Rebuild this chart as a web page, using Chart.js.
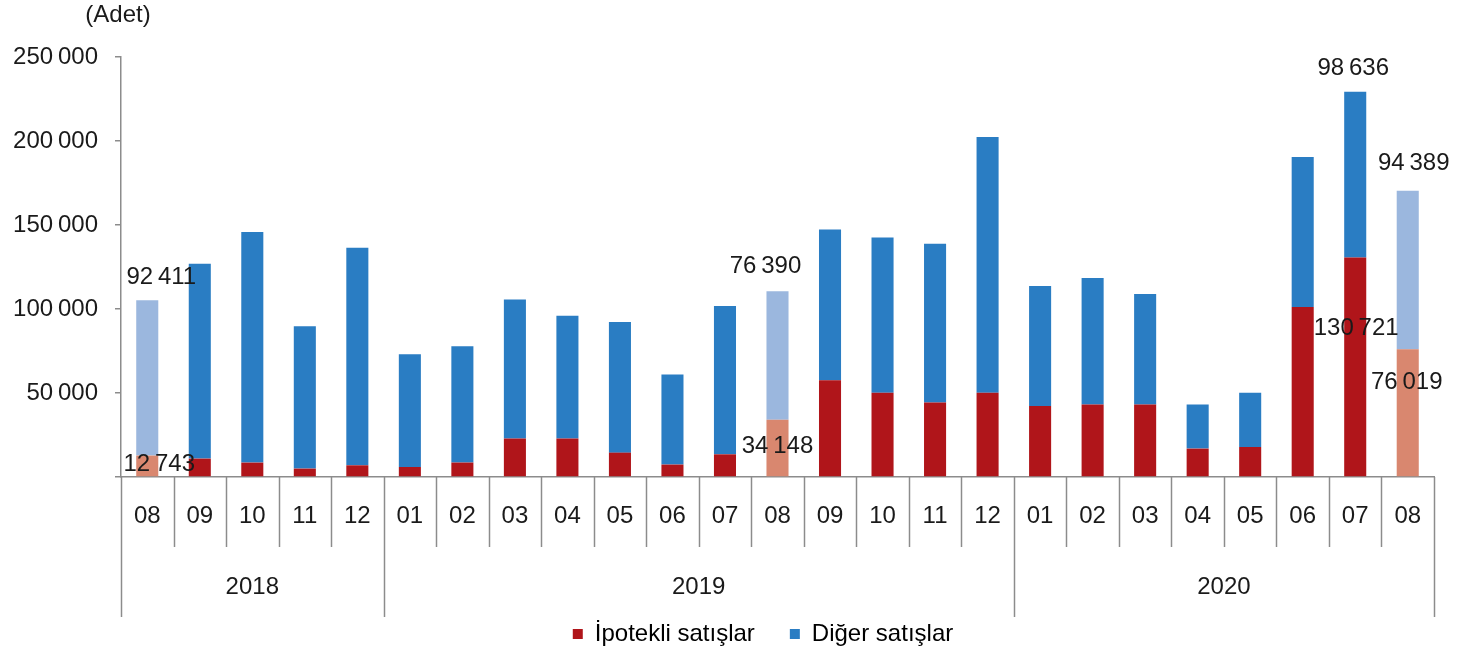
<!DOCTYPE html>
<html lang="tr">
<head>
<meta charset="utf-8">
<script src="https://cdn.jsdelivr.net/npm/chart.js@4.4.1/dist/chart.umd.min.js"></script>
<style>
    html, body { margin: 0; padding: 0; background: #fff; }
</style>
</head>
<body>
<canvas id="grafik" width="1481" height="661"></canvas>
<script>
// aylar (2018-08 .. 2020-08)
const aylar = ['08', '09', '10', '11', '12',
    '01', '02', '03', '04', '05', '06', '07', '08', '09', '10', '11', '12',
    '01', '02', '03', '04', '05', '06', '07', '08'];
const yillar = ['2018', '2019', '2020'];
const yilAySayisi = [5, 12, 8];

const ipotekli = [12743, 10950, 8570, 5000, 6960,
    5950, 8600, 22900, 22900, 14500, 7400, 13500, 34148, 57550, 50200, 44300, 50200,
    42250, 43100, 43100, 16900, 17850, 101200, 130721, 76019];
const diger = [92411, 116050, 137230, 84700, 129540,
    67050, 69200, 82700, 73150, 77750, 53550, 88300, 76390, 89700, 92300, 94600, 152200,
    71450, 75350, 65800, 26200, 32350, 89250, 98636, 94389];

// açık renkle gösterilen aylar (her yılın ağustosu)
const vurgulu = [0, 12, 24];

// değer etiketleri: seri, ay, kaydırma
const degerEtiketleri = [
    { seri: 1, ay: 0, dx: 14, dy: -23 },
    { seri: 0, ay: 0, dx: 12, dy: 9 },
    { seri: 1, ay: 12, dx: -12, dy: -25 },
    { seri: 0, ay: 12, dx: 0, dy: 27 },
    { seri: 1, ay: 23, dx: -2, dy: -23 },
    { seri: 0, ay: 23, dx: 1, dy: 71 },
    { seri: 1, ay: 24, dx: 6, dy: -27 },
    { seri: 0, ay: 24, dx: -1, dy: 33 }
];

const renkler = {
    ipotekli: '#b0151a',
    ipotekliAcik: '#d9876f',
    diger: '#2a7dc3',
    digerAcik: '#9bb7de',
    eksen: '#8c8c8c',
    yazi: '#1a1a1a'
};
const yaziTipi = 'Liberation Sans, Arial, sans-serif';
const yaziBoyu = 24;

function binlik(v) {
    return String(v).replace(/\B(?=(\d{3})+(?!\d))/g, '\u2009');
}

const eksenCizimi = {
    id: 'eksenCizimi',
    afterLayout(chart) {
        // lejand biraz sağda duruyor
        if (chart.legend) chart.legend.left += 92;
    },
    afterDraw(chart) {
        const ctx = chart.ctx;
        const x = chart.scales.x;
        const alt = chart.chartArea.bottom;
        const w = (x.right - x.left) / aylar.length;
        const sinirlar = [0];
        yilAySayisi.forEach(n => sinirlar.push(sinirlar[sinirlar.length - 1] + n));

        ctx.save();
        ctx.strokeStyle = renkler.eksen;
        ctx.lineWidth = 1.5;
        for (let i = 0; i <= aylar.length; i++) {
            const px = Math.round(x.left + i * w) + 0.5;
            const uzun = sinirlar.includes(i);
            ctx.beginPath();
            ctx.moveTo(px, alt);
            ctx.lineTo(px, alt + (uzun ? 140 : 70));
            ctx.stroke();
        }

        ctx.fillStyle = renkler.yazi;
        ctx.font = yaziBoyu + 'px ' + yaziTipi;
        ctx.textAlign = 'center';
        ctx.textBaseline = 'middle';
        yillar.forEach((yil, k) => {
            const orta = x.left + (sinirlar[k] + sinirlar[k + 1]) / 2 * w;
            ctx.fillText(yil, orta, alt + 110);
        });

        // birim
        ctx.fillText('(Adet)', chart.scales.y.right - 3, 15);

        // değer etiketleri
        const seriler = [ipotekli, diger];
        degerEtiketleri.forEach(e => {
            const bar = chart.getDatasetMeta(e.seri).data[e.ay];
            ctx.fillText(binlik(seriler[e.seri][e.ay]), bar.x + e.dx, bar.y + e.dy);
        });
        ctx.restore();
    }
};

new Chart(document.getElementById('grafik'), {
    type: 'bar',
    data: {
        labels: aylar,
        datasets: [{
            label: 'İpotekli satışlar',
            data: ipotekli,
            backgroundColor: c => vurgulu.includes(c.dataIndex) ? renkler.ipotekliAcik : renkler.ipotekli,
            barPercentage: 0.42,
            categoryPercentage: 1
        }, {
            label: 'Diğer satışlar',
            data: diger,
            backgroundColor: c => vurgulu.includes(c.dataIndex) ? renkler.digerAcik : renkler.diger,
            barPercentage: 0.42,
            categoryPercentage: 1
        }]
    },
    options: {
        responsive: false,
        animation: false,
        layout: { padding: { top: 57, right: 47, bottom: 5, left: 0 } },
        scales: {
            x: {
                stacked: true,
                offset: true,
                grid: { display: false, drawTicks: false },
                border: { display: true, color: renkler.eksen, width: 1.5 },
                ticks: {
                    autoSkip: false,
                    maxRotation: 0,
                    padding: 25,
                    color: renkler.yazi,
                    font: { family: yaziTipi, size: yaziBoyu }
                },
                afterFit(s) { s.height = 110; }
            },
            y: {
                stacked: true,
                min: 0,
                max: 250000,
                grid: { drawOnChartArea: false, drawTicks: true, tickLength: 6, color: renkler.eksen, lineWidth: 1.5 },
                border: { display: true, color: renkler.eksen, width: 1.5 },
                ticks: {
                    stepSize: 50000,
                    padding: 17,
                    color: renkler.yazi,
                    font: { family: yaziTipi, size: yaziBoyu },
                    callback: v => v === 0 ? '' : binlik(v)
                },
                afterFit(s) { s.width = 121; }
            }
        },
        plugins: {
            tooltip: { enabled: false },
            legend: {
                position: 'bottom',
                labels: {
                    boxWidth: 10,
                    boxHeight: 10,
                    padding: 35,
                    color: renkler.yazi,
                    font: { family: yaziTipi, size: yaziBoyu },
                    generateLabels: () => [
                        { text: 'İpotekli satışlar', fillStyle: renkler.ipotekli, strokeStyle: renkler.ipotekli, lineWidth: 0, datasetIndex: 0, hidden: false },
                        { text: 'Diğer satışlar', fillStyle: renkler.diger, strokeStyle: renkler.diger, lineWidth: 0, datasetIndex: 1, hidden: false }
                    ]
                }
            }
        }
    },
    plugins: [eksenCizimi]
});
</script>
</body>
</html>
